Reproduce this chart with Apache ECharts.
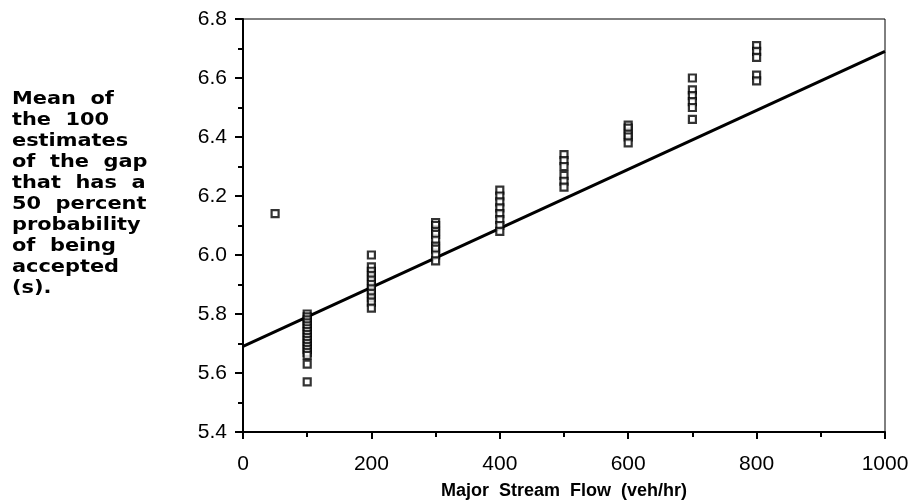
<!DOCTYPE html>
<html><head><meta charset="utf-8">
<script src="https://cdn.jsdelivr.net/npm/echarts@6/dist/echarts.min.js"></script>
<style>html,body{margin:0;padding:0;background:#fff}#c{width:912px;height:504px}</style>
</head><body><div id="c"></div>
<script>
// Data
const flowX = [50, 100, 200, 300, 400, 500, 600, 700, 800];
const gapMeans = [
  [6.14],
  [5.80, 5.79, 5.78, 5.77, 5.76, 5.75, 5.74, 5.73, 5.72, 5.71, 5.70, 5.69, 5.68, 5.67, 5.66, 5.63, 5.57],
  [6.00, 5.96, 5.945, 5.93, 5.915, 5.90, 5.885, 5.87, 5.855, 5.84, 5.82],
  [6.11, 6.10, 6.08, 6.07, 6.05, 6.03, 6.02, 6.00, 5.98],
  [6.22, 6.20, 6.18, 6.16, 6.14, 6.12, 6.10, 6.08],
  [6.34, 6.32, 6.30, 6.27, 6.25, 6.23],
  [6.44, 6.43, 6.41, 6.40, 6.38],
  [6.60, 6.56, 6.54, 6.52, 6.50, 6.46],
  [6.71, 6.69, 6.67, 6.61, 6.59]
];
const fitLineX = [0, 1000];
const fitLineY = [5.69, 6.69];
const yTitleLines = ['Mean  of', 'the  100', 'estimates', 'of  the  gap', 'that  has  a', '50  percent', 'probability', 'of  being', 'accepted', '(s).'];
const xTitle = 'Major  Stream  Flow  (veh/hr)';

const scatterData = [];
flowX.forEach((x, i) => gapMeans[i].forEach(v => scatterData.push([x, v])));
const lineData = fitLineX.map((x, i) => [x, fitLineY[i]]);

const chart = echarts.init(document.getElementById('c'));
const font = '"Liberation Sans", Arial, sans-serif';
chart.setOption({
  backgroundColor: '#fff',
  animation: false,
  grid: { left: 243, right: 27, top: 19, bottom: 72, containLabel: false, outerBoundsMode: 'none',
          show: true, borderColor: '#000', borderWidth: 1, backgroundColor: 'transparent' },
  xAxis: {
    type: 'value', min: 0, max: 1000, interval: 200,
    name: xTitle, nameLocation: 'middle', nameGap: 50,
    nameTextStyle: { fontFamily: font, fontWeight: 'bold', fontSize: 18, color: '#000' },
    axisLine: { show: true, onZero: false, lineStyle: { color: '#000', width: 2 } },
    axisTick: { show: true, inside: false, length: 7, lineStyle: { color: '#000', width: 2 } },
    minorTick: { show: true, splitNumber: 2, length: 5, lineStyle: { color: '#000', width: 2 } },
    splitLine: { show: false },
    axisLabel: { fontFamily: font, fontSize: 21, color: '#000', margin: 22, formatter: v => String(v) }
  },
  yAxis: {
    type: 'value', min: 5.4, max: 6.8, interval: 0.2,
    axisLine: { show: true, onZero: false, lineStyle: { color: '#000', width: 2 } },
    axisTick: { show: true, inside: false, length: 8, lineStyle: { color: '#000', width: 2 } },
    minorTick: { show: true, splitNumber: 2, length: 5, lineStyle: { color: '#000', width: 2 } },
    splitLine: { show: false },
    axisLabel: { fontFamily: font, fontSize: 21, color: '#000', margin: 16, formatter: v => v.toFixed(1) }
  },
  series: [
    {
      type: 'line', data: lineData, showSymbol: false, symbol: 'none',
      lineStyle: { color: '#000', width: 3 }, z: 2
    },
    {
      type: 'scatter', data: scatterData, symbol: 'rect', symbolSize: 7,
      itemStyle: { color: '#fff', borderColor: '#000', borderWidth: 2.2 }, z: 3
    }
  ],
  graphic: [{
    type: 'text', x: 12, y: 89, scaleX: 1.16,
    style: {
      text: yTitleLines.join('\n'), fontFamily: '"DejaVu Sans", sans-serif', fontWeight: 'bold',
      fontSize: 18, lineHeight: 21, fill: '#000', verticalAlign: 'top'
    }
  }]
});
</script></body></html>
